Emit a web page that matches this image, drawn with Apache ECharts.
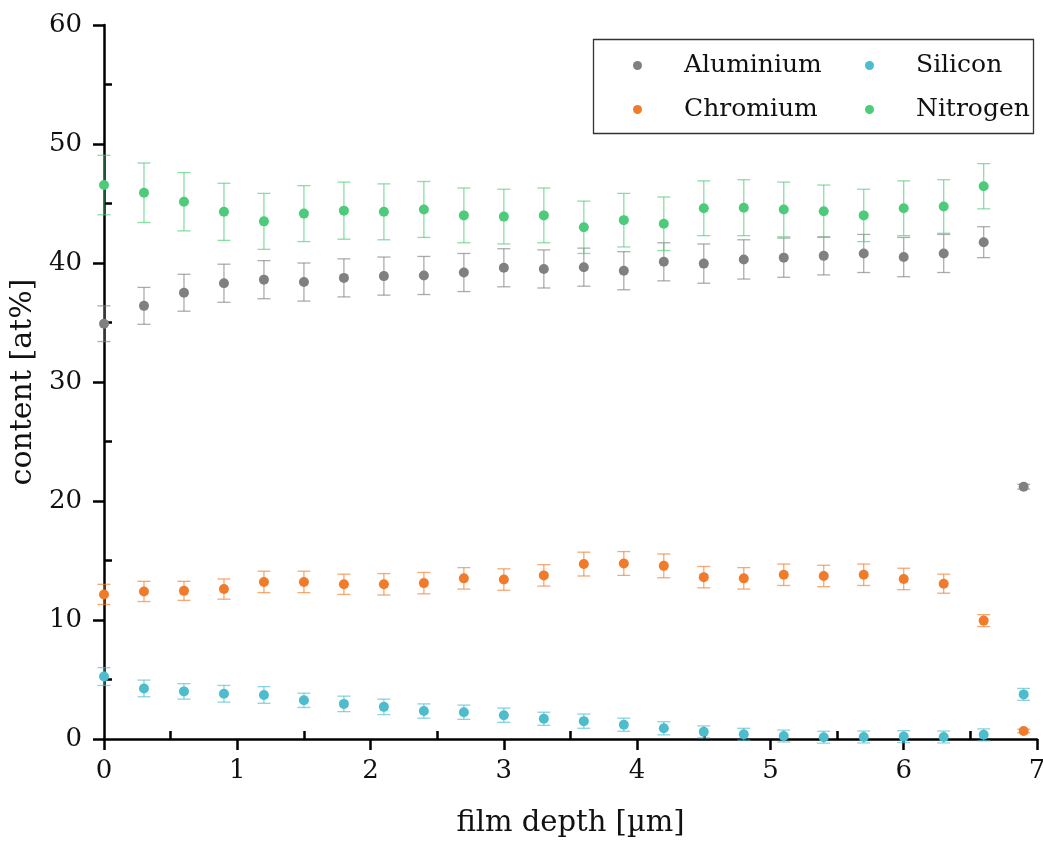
<!DOCTYPE html>
<html>
<head>
<meta charset="utf-8">
<script src="https://cdn.jsdelivr.net/npm/echarts@6/dist/echarts.min.js"></script>
<style>
  html, body { margin: 0; padding: 0; background: #fff; }
  #chart-wrapper { width: 1043px; height: 849px; }
</style>
</head>
<body>
<div id="chart-wrapper"></div>
<script>
// film depth in µm
const depth = [0, 0.3, 0.6, 0.9, 1.2, 1.5, 1.8, 2.1, 2.4, 2.7, 3.0, 3.3, 3.6, 3.9, 4.2, 4.5, 4.8, 5.1, 5.4, 5.7, 6.0, 6.3, 6.6, 6.9]

const aluminium = [34.9, 36.4, 37.5, 38.3, 38.6, 38.4, 38.75, 38.9, 38.95, 39.2, 39.6, 39.5, 39.65, 39.35, 40.1, 39.95, 40.3, 40.45, 40.6, 40.8, 40.5, 40.8, 41.75, 21.2]
const aluminiumErr = [1.5, 1.55, 1.55, 1.6, 1.6, 1.6, 1.6, 1.6, 1.6, 1.6, 1.6, 1.6, 1.6, 1.6, 1.6, 1.65, 1.65, 1.65, 1.6, 1.6, 1.65, 1.6, 1.3, 0.2]

const chromium = [12.15, 12.4, 12.45, 12.6, 13.2, 13.2, 13.0, 13.0, 13.1, 13.5, 13.4, 13.75, 14.7, 14.75, 14.55, 13.6, 13.5, 13.8, 13.7, 13.8, 13.45, 13.05, 9.95, 0.67]
const chromiumErr = [0.85, 0.85, 0.8, 0.85, 0.9, 0.9, 0.85, 0.9, 0.9, 0.9, 0.9, 0.9, 1.0, 1.0, 1.0, 0.9, 0.9, 0.9, 0.9, 0.9, 0.9, 0.8, 0.5, 0.15]

const silicon = [5.25, 4.25, 4.0, 3.8, 3.7, 3.25, 2.95, 2.7, 2.35, 2.25, 2.0, 1.7, 1.5, 1.2, 0.9, 0.6, 0.4, 0.25, 0.15, 0.17, 0.2, 0.17, 0.35, 3.75]
const siliconErr = [0.75, 0.7, 0.65, 0.7, 0.7, 0.6, 0.65, 0.65, 0.6, 0.6, 0.6, 0.55, 0.6, 0.55, 0.55, 0.5, 0.5, 0.5, 0.5, 0.5, 0.5, 0.5, 0.5, 0.5]

const nitrogen = [46.55, 45.9, 45.15, 44.3, 43.5, 44.15, 44.4, 44.3, 44.5, 44.0, 43.9, 44.0, 43.0, 43.6, 43.3, 44.6, 44.65, 44.5, 44.35, 44.0, 44.6, 44.75, 46.45, null]
const nitrogenErr = [2.5, 2.5, 2.45, 2.4, 2.35, 2.35, 2.4, 2.35, 2.35, 2.3, 2.3, 2.3, 2.2, 2.25, 2.25, 2.3, 2.35, 2.3, 2.2, 2.2, 2.3, 2.25, 1.9, null]

const elements = [
  { name: 'Aluminium', values: aluminium, errors: aluminiumErr, color: '#808080' },
  { name: 'Chromium', values: chromium, errors: chromiumErr, color: '#f07b2b' },
  { name: 'Silicon', values: silicon, errors: siliconErr, color: '#4dbccd' },
  { name: 'Nitrogen', values: nitrogen, errors: nitrogenErr, color: '#4dcb7a' }
]

const serif = 'DejaVu Serif'

const toPoints = el => depth
  .map((d, i) => [d, el.values[i]])
  .filter(p => p[1] != null)

const toErrors = el => depth
  .map((d, i) => el.values[i] == null ? null : [d, el.values[i] - el.errors[i], el.values[i] + el.errors[i]])
  .filter(p => p != null)

const renderErrorBar = color => (params, api) => {
  const low = api.coord([api.value(0), api.value(1)])
  const high = api.coord([api.value(0), api.value(2)])
  const half = 6.5
  const style = { stroke: color, lineWidth: 1.3, opacity: 0.65 }
  return {
    type: 'group',
    children: [
      { type: 'line', shape: { x1: low[0], y1: low[1], x2: high[0], y2: high[1] }, style },
      { type: 'line', shape: { x1: low[0] - half, y1: low[1], x2: low[0] + half, y2: low[1] }, style },
      { type: 'line', shape: { x1: high[0] - half, y1: high[1], x2: high[0] + half, y2: high[1] }, style }
    ]
  }
}

const errorSeries = elements.map(el => ({
  type: 'custom',
  name: el.name + ' error',
  renderItem: renderErrorBar(el.color),
  data: toErrors(el),
  encode: { x: 0, y: [1, 2] },
  clip: false,
  silent: true,
  z: 2
}))

const pointSeries = elements.map(el => ({
  type: 'scatter',
  name: el.name,
  data: toPoints(el),
  symbol: 'circle',
  symbolSize: 10,
  itemStyle: { color: el.color, opacity: 1 },
  clip: false,
  z: 3
}))

const legendBase = {
  orient: 'vertical',
  icon: 'circle',
  itemWidth: 9,
  itemHeight: 9,
  itemGap: 19,
  top: 48,
  textStyle: {
    fontFamily: serif,
    fontSize: 25,
    color: '#111',
    padding: [0, 0, 0, 37]
  },
  selectedMode: false
}

const chart = echarts.init(document.getElementById('chart-wrapper'))
chart.setOption({
  backgroundColor: '#fff',
  animation: false,
  grid: { left: 104, right: 6, top: 25, bottom: 110, outerBoundsMode: 'none' },
  xAxis: [
    {
      type: 'value',
      min: 0,
      max: 7,
      interval: 1,
      name: 'film depth [µm]',
      nameLocation: 'middle',
      nameGap: 70,
      nameTextStyle: { fontFamily: serif, fontSize: 29, color: '#111' },
      axisLine: { lineStyle: { color: '#000', width: 2.5 } },
      axisTick: { length: 11, lineStyle: { color: '#000', width: 2.5 } },
      axisLabel: { margin: 19, fontFamily: serif, fontSize: 26, color: '#111' },
      splitLine: { show: false }
    },
    {
      type: 'value',
      position: 'bottom',
      min: 0,
      max: 7,
      interval: 1,
      axisLine: { show: false },
      axisTick: { show: false, inside: true },
      minorTick: { show: true, splitNumber: 2, length: 8, lineStyle: { color: '#000', width: 2.5 } },
      axisLabel: { show: false },
      splitLine: { show: false }
    }
  ],
  yAxis: [
    {
      type: 'value',
      min: 0,
      max: 60,
      interval: 10,
      name: 'content [at%]',
      nameLocation: 'middle',
      nameGap: 57,
      nameTextStyle: { fontFamily: serif, fontSize: 30, color: '#111' },
      axisLine: { show: true, lineStyle: { color: '#000', width: 2.5 } },
      axisTick: { show: true, length: 11, lineStyle: { color: '#000', width: 2.5 } },
      axisLabel: { margin: 22, fontFamily: serif, fontSize: 26, color: '#111' },
      splitLine: { show: false }
    },
    {
      type: 'value',
      position: 'left',
      min: 0,
      max: 60,
      interval: 10,
      axisLine: { show: false },
      axisTick: { show: false, inside: true },
      minorTick: { show: true, splitNumber: 2, length: 8, lineStyle: { color: '#000', width: 2.5 } },
      axisLabel: { show: false },
      splitLine: { show: false }
    }
  ],
  legend: [
    { ...legendBase, left: 628, data: ['Aluminium', 'Chromium'] },
    { ...legendBase, left: 860, data: ['Silicon', 'Nitrogen'] }
  ],
  graphic: [
    {
      type: 'rect',
      left: 591,
      top: 37,
      shape: { width: 440, height: 94 },
      style: { fill: 'none', stroke: '#333', lineWidth: 1.3 },
      z: 100
    }
  ],
  series: [...errorSeries, ...pointSeries]
})
</script>
</body>
</html>
